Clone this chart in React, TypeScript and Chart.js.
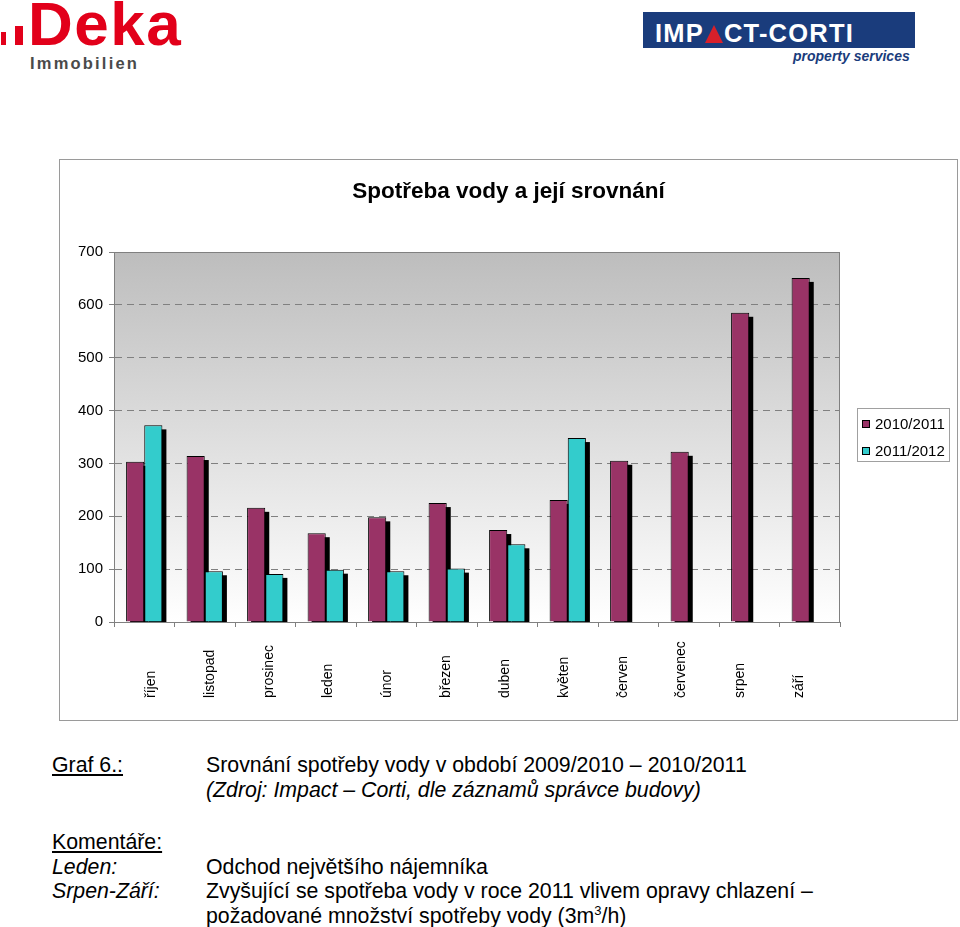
import React, { useEffect, useRef } from 'react';
import { Chart, registerables } from 'chart.js';

Chart.register(...registerables);

const categories = ['říjen', 'listopad', 'prosinec', 'leden', 'únor', 'březen', 'duben', 'květen', 'červen', 'červenec', 'srpen', 'září'];
const series1Label = '2010/2011';
const series2Label = '2011/2012';
const series1 = [303, 314, 216, 168, 198, 225, 174, 231, 305, 322, 585, 651];
const series2 = [372, 96, 91, 99, 96, 101, 147, 348, null, null, null, null];
const yMin = 0;
const yMax = 700;
const yStep = 100;
const chartTitle = 'Spotřeba vody a její srovnání';

const FONT = '"Liberation Sans", Arial, Helvetica, sans-serif';
const MAROON = '#993366';
const CYAN = '#33CCCC';
const GRID = '#808080';

const backgroundPlugin = {
  id: 'plotBackground',
  beforeDraw(chart: any) {
    const { ctx, chartArea: a } = chart;
    const g = ctx.createLinearGradient(0, a.top, 0, a.bottom);
    g.addColorStop(0, '#bdbdbd');
    g.addColorStop(1, '#ffffff');
    ctx.save();
    ctx.fillStyle = g;
    ctx.fillRect(a.left, a.top, a.right - a.left, a.bottom - a.top);
    ctx.restore();
  },
};

const shadowPlugin = {
  id: 'barShadow',
  beforeDatasetsDraw(chart: any) {
    const { ctx, chartArea: a } = chart;
    ctx.save();
    ctx.beginPath();
    ctx.rect(a.left, a.top, a.right - a.left, a.bottom - a.top);
    ctx.clip();
    ctx.strokeStyle = GRID;
    ctx.lineWidth = 1;
    ctx.beginPath();
    ctx.moveTo(a.left, a.top + 0.5);
    ctx.lineTo(a.right - 0.5, a.top + 0.5);
    ctx.lineTo(a.right - 0.5, a.bottom);
    ctx.stroke();
    ctx.fillStyle = '#000000';
    chart.data.datasets.forEach((_d: any, i: number) => {
      const meta = chart.getDatasetMeta(i);
      meta.data.forEach((el: any) => {
        const p = el.getProps(['x', 'y', 'base', 'width'], true);
        if (!isFinite(p.y) || !isFinite(p.x)) return;
        const left = p.x - p.width / 2 + 4;
        const top = Math.min(p.y, p.base) + 4;
        ctx.fillRect(left, top, p.width, Math.abs(p.base - p.y));
      });
    });
    ctx.restore();
  },
};

const labelsPlugin = {
  id: 'xLabels',
  afterDraw(chart: any) {
    const { ctx } = chart;
    const x = chart.scales.x;
    const c0 = x.getPixelForValue(0);
    ctx.save();
    ctx.font = `14px ${FONT}`;
    ctx.fillStyle = '#000000';
    ctx.textAlign = 'left';
    ctx.textBaseline = 'middle';
    categories.forEach((lab, i) => {
      const cx = c0 + 7 + (x.getPixelForValue(i) - c0) * 0.974;
      ctx.save();
      ctx.translate(cx, chart.chartArea.bottom + 76);
      ctx.rotate(-Math.PI / 2);
      ctx.fillText(lab, 0, 0);
      ctx.restore();
    });
    ctx.restore();
  },
};

const legendPlugin = {
  id: 'customLegend',
  afterDraw(chart: any) {
    const { ctx, chartArea: a } = chart;
    const bx = a.right + 17;
    const by = a.top + 156;
    const bw = 93;
    const bh = 54;
    ctx.save();
    ctx.fillStyle = '#ffffff';
    ctx.fillRect(bx, by, bw, bh);
    ctx.strokeStyle = '#a0a0a0';
    ctx.lineWidth = 1;
    ctx.strokeRect(bx + 0.5, by + 0.5, bw - 1, bh - 1);
    ctx.font = `15px ${FONT}`;
    ctx.textBaseline = 'middle';
    ctx.textAlign = 'left';
    chart.data.datasets.forEach((d: any, i: number) => {
      const cy = by + 16 + i * 27;
      ctx.fillStyle = d.backgroundColor;
      ctx.fillRect(bx + 5, cy - 4, 8, 8);
      ctx.strokeStyle = '#000000';
      ctx.strokeRect(bx + 5.5, cy - 3.5, 7, 7);
      ctx.fillStyle = '#000000';
      ctx.fillText(d.label, bx + 18, cy + 1);
    });
    ctx.restore();
  },
};

function WaterChart() {
  const ref = useRef<HTMLCanvasElement | null>(null);
  useEffect(() => {
    if (!ref.current) return;
    const chart = new Chart(ref.current, {
      type: 'bar',
      data: {
        labels: categories,
        datasets: [
          {
            label: series1Label,
            data: series1,
            backgroundColor: MAROON,
            borderColor: '#000000',
            borderWidth: 1,
            categoryPercentage: 0.6,
            barPercentage: 1.0,
          },
          {
            label: series2Label,
            data: series2 as any,
            backgroundColor: CYAN,
            borderColor: '#000000',
            borderWidth: 1,
            categoryPercentage: 0.6,
            barPercentage: 1.0,
          },
        ],
      },
      options: {
        animation: false,
        responsive: false,
        devicePixelRatio: 1,
        layout: { padding: { top: 0, right: 0, bottom: 0, left: 0 } },
        plugins: {
          legend: { display: false },
          tooltip: { enabled: false },
          title: {
            display: true,
            text: chartTitle,
            color: '#000000',
            font: { family: FONT, size: 22.5, weight: 'bold' },
            padding: { top: 18, bottom: 47 },
          },
        },
        scales: {
          x: {
            afterFit: (s: any) => { s.height = 98; },
            ticks: { display: false },
            grid: {
              display: true,
              drawOnChartArea: false,
              drawTicks: true,
              tickLength: 5,
              tickColor: GRID,
              offset: true,
            },
            border: { display: true, color: GRID, width: 1 },
          },
          y: {
            min: yMin,
            max: yMax,
            afterFit: (s: any) => { s.width = 54; },
            ticks: {
              stepSize: yStep,
              color: '#000000',
              padding: 6,
              font: { family: FONT, size: 15 },
            },
            grid: {
              color: GRID,
              lineWidth: 1,
              drawTicks: true,
              tickLength: 5,
              tickColor: GRID,
              tickBorderDash: [],
            },
            border: { display: true, color: GRID, width: 1, dash: [7, 5] },
          },
          legendSpace: {
            type: 'linear',
            position: 'right',
            display: true,
            afterFit: (s: any) => { s.width = 117; },
            ticks: { display: false },
            grid: { display: false, drawTicks: false },
            border: { display: false },
          },
        },
      },
      plugins: [backgroundPlugin, shadowPlugin, labelsPlugin, legendPlugin],
    } as any);
    return () => chart.destroy();
  }, []);
  return <canvas ref={ref} width={897} height={560} style={{ display: 'block', width: 897, height: 560 }} />;
}

const abs = (top: number, left: number, extra: React.CSSProperties = {}): React.CSSProperties => ({
  position: 'absolute',
  top,
  left,
  whiteSpace: 'nowrap',
  ...extra,
});

const textStyle: React.CSSProperties = {
  fontFamily: FONT,
  fontSize: 21.3,
  lineHeight: '21px',
  color: '#000000',
};

export default function App() {
  return (
    <div style={{ position: 'absolute', top: 0, left: 0, width: 960, height: 927, background: '#ffffff', overflow: 'hidden', fontFamily: FONT }}>
      {/* Deka logo */}
      <div style={abs(32, 1, { width: 5, height: 13, background: '#e2001a' })} />
      <div style={abs(26, 15, { width: 8, height: 19, background: '#e2001a' })} />
      <div style={abs(-6, 28, { fontSize: 62, fontWeight: 'bold', color: '#e2001a', lineHeight: '60px', letterSpacing: '1.5px', fontFamily: FONT })}>Deka</div>
      <div style={abs(55, 30, { fontSize: 16.5, fontWeight: 'bold', color: '#4a4a4a', letterSpacing: '2.2px', lineHeight: '16px', fontFamily: FONT })}>Immobilien</div>

      {/* Impact-Corti logo */}
      <div style={abs(12, 643, { width: 272, height: 36, background: '#1a3c7c' })} />
      <div style={abs(21, 655, { fontSize: 25.5, fontWeight: 'bold', color: '#ffffff', lineHeight: '25px', letterSpacing: '1.2px', fontFamily: FONT, display: 'flex', alignItems: 'flex-end' })}>
        <span>IMP</span>
        <span style={{ display: 'inline-block', width: 0, height: 0, borderLeft: '9px solid transparent', borderRight: '9px solid transparent', borderBottom: '18px solid #d8202a', margin: '0 1px 3px 1px' }} />
        <span>CT-CORTI</span>
      </div>
      <div style={abs(49, 793, { fontSize: 14, fontWeight: 'bold', fontStyle: 'italic', color: '#1a3c7c', lineHeight: '14px', fontFamily: FONT })}>property services</div>

      {/* Chart box */}
      <div style={abs(159, 59, { width: 897, height: 560, border: '1px solid #9a9a9a', background: '#ffffff' })}>
        <WaterChart />
      </div>

      {/* Caption */}
      <div style={abs(755, 52, { ...textStyle, textDecoration: 'underline' })}>Graf 6.:</div>
      <div style={abs(755, 206, textStyle)}>Srovnání spotřeby vody v období 2009/2010 – 2010/2011</div>
      <div style={abs(780, 206, { ...textStyle, fontStyle: 'italic' })}>(Zdroj: Impact – Corti, dle záznamů správce budovy)</div>

      <div style={abs(832, 52, { ...textStyle, textDecoration: 'underline' })}>Komentáře:</div>
      <div style={abs(857, 52, { ...textStyle, fontStyle: 'italic' })}>Leden:</div>
      <div style={abs(857, 206, textStyle)}>Odchod největšího nájemníka</div>
      <div style={abs(881, 52, { ...textStyle, fontStyle: 'italic' })}>Srpen-Září:</div>
      <div style={abs(881, 206, textStyle)}>Zvyšující se spotřeba vody v roce 2011 vlivem opravy chlazení –</div>
      <div style={abs(906, 206, textStyle)}>
        požadované množství spotřeby vody (3m<sup style={{ fontSize: 13, lineHeight: 0, verticalAlign: 'super' }}>3</sup>/h)
      </div>
    </div>
  );
}
